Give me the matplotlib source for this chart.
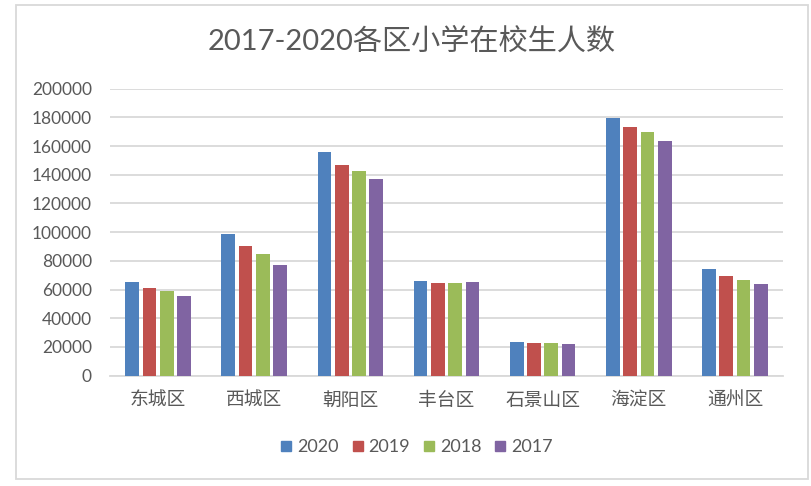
import numpy as np
import matplotlib.pyplot as plt
from matplotlib.patches import Rectangle

plt.rcParams['font.family'] = ['Lato', 'Noto Sans CJK SC', 'DejaVu Sans']

districts = ['东城区', '西城区', '朝阳区', '丰台区', '石景山区', '海淀区', '通州区']
years = ['2020', '2019', '2018', '2017']
v2020 = [65300, 98700, 155900, 66000, 23500, 179600, 74300]
v2019 = [61100, 90400, 146800, 64600, 22800, 173300, 69500]
v2018 = [59000, 84800, 142600, 64600, 22800, 169800, 66700]
v2017 = [55500, 77100, 137100, 65300, 22100, 163500, 63900]
colors = ['#4F81BD', '#C0504D', '#9BBB59', '#8064A2']

text_color = '#595959'
grid_color = '#D9D9D9'

fig = plt.figure(figsize=(8.11, 4.86), dpi=100)
ax = fig.add_axes([0.1356, 0.2270, 0.8299, 0.5905])

x = np.arange(len(districts))
step = 0.18
width = 0.143
series = [v2020, v2019, v2018, v2017]
for i, vals in enumerate(series):
    offset = (i - 1.5) * step
    ax.bar(x + offset, vals, width, color=colors[i], label=years[i], zorder=3)

ax.set_xlim(-0.5, len(districts) - 0.5)
ax.set_ylim(0, 200000)
ax.set_yticks(np.arange(0, 200001, 20000))
ax.set_yticklabels([str(v) for v in range(0, 200001, 20000)])
ax.set_xticks(x)
ax.set_xticklabels(districts)

ax.grid(axis='y', color=grid_color, linewidth=1.3, zorder=0)
for s in ['top', 'right', 'left']:
    ax.spines[s].set_visible(False)
ax.spines['bottom'].set_color(grid_color)
ax.spines['bottom'].set_linewidth(1.3)
ax.tick_params(axis='both', length=0, colors=text_color, labelsize=12.5)
ax.tick_params(axis='y', pad=13)
ax.tick_params(axis='x', pad=10)
for lbl in ax.get_xticklabels():
    lbl.set_fontfamily(['Noto Sans CJK SC'])
    lbl.set_fontsize(13.5)

fig.text(0.507, 1 - 41 / 486, '2017-2020各区小学在校生人数', ha='center', va='center',
         fontsize=21, color=text_color)

handles = [plt.Line2D([], [], marker='s', linestyle='none', markersize=7.5,
                      markerfacecolor=c, markeredgecolor=c) for c in colors]
fig.legend(handles, years, loc='center', bbox_to_anchor=(415 / 811, 1 - 447 / 486),
           ncol=4, frameon=False, fontsize=13, handletextpad=0.1, columnspacing=0.55,
           labelcolor=text_color, handlelength=1.0)

fig.patches.append(Rectangle((16 / 811, 1 - 479 / 486), (808 - 16) / 811, (479 - 5) / 486,
                             transform=fig.transFigure, fill=False,
                             edgecolor=grid_color, linewidth=1.3))

fig.savefig('out.png', dpi=100)
